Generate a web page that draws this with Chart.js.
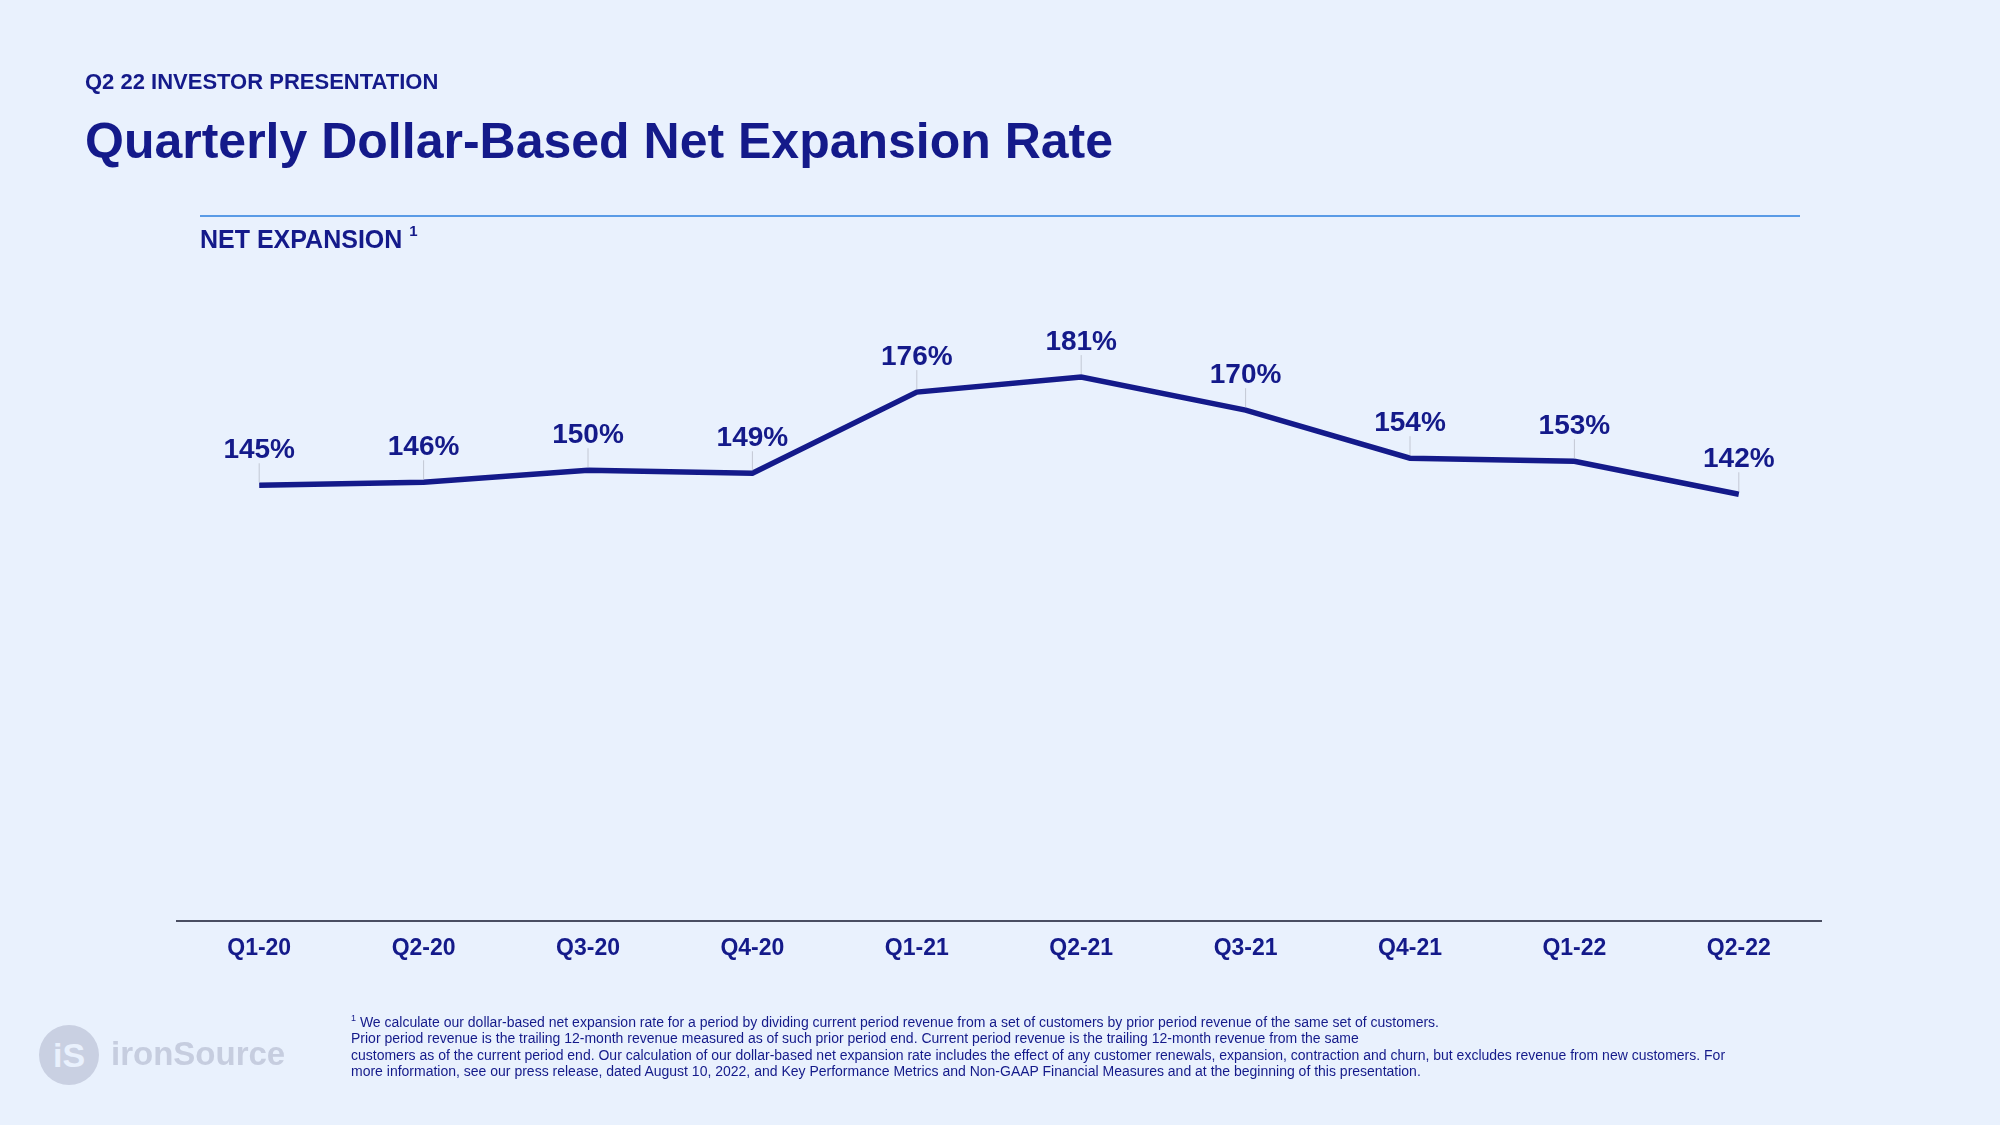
<!DOCTYPE html>
<html>
<head>
<meta charset="utf-8">
<script src="https://cdn.jsdelivr.net/npm/chart.js@4"></script>
<style>
  body { margin: 0; background: #e9f1fd; font-family: "Liberation Sans", Arial, sans-serif; color: #141a8a; }
  #page { position: relative; width: 2000px; height: 1125px; overflow: hidden; }
  #chart { position: absolute; left: 0; top: 0; }
  .txt { position: absolute; white-space: nowrap; font-weight: bold; }
  #kicker { left: 85px; top: 69px; font-size: 22px; }
  #title { left: 85px; top: 112px; font-size: 50px; }
  #rule { position: absolute; left: 200px; top: 215px; width: 1600px; height: 2px; background: #5a9be6; }
  #section { left: 200px; top: 225px; font-size: 25px; }
  #section sup { font-size: 15px; position: relative; top: -3px; }
  #notes { position: absolute; left: 351px; top: 1010px; font-size: 14px; line-height: 16.6px; color: #141a8a; }
  #notes sup { font-size: 9px; }
  #logo { position: absolute; left: 39px; top: 1025px; width: 60px; height: 60px; border-radius: 50%; background: #c9d0e2;
          color: #e9f1fd; font-weight: bold; font-size: 34px; text-align: center; line-height: 60px; }
  #logoname { left: 111px; top: 1035px; font-size: 33px; color: #c6cddf; }
</style>
</head>
<body>
<div id="page">
  <canvas id="chart" width="2000" height="1125"></canvas>
  <div class="txt" id="kicker">Q2 22 INVESTOR PRESENTATION</div>
  <div class="txt" id="title">Quarterly Dollar-Based Net Expansion Rate</div>
  <div id="rule"></div>
  <div class="txt" id="section">NET EXPANSION <sup>1</sup></div>
  <div id="notes">
    <sup>1</sup> We calculate our dollar-based net expansion rate for a period by dividing current period revenue from a set of customers by prior period revenue of the same set of customers.<br>
    Prior period revenue is the trailing 12-month revenue measured as of such prior period end. Current period revenue is the trailing 12-month revenue from the same<br>
    customers as of the current period end. Our calculation of our dollar-based net expansion rate includes the effect of any customer renewals, expansion, contraction and churn, but excludes revenue from new customers. For<br>
    more information, see our press release, dated August 10, 2022, and Key Performance Metrics and Non-GAAP Financial Measures and at the beginning of this presentation.
  </div>
  <div id="logo">iS</div>
  <div class="txt" id="logoname">ironSource</div>
</div>
<script>
// Data
var quarters = ['Q1-20', 'Q2-20', 'Q3-20', 'Q4-20', 'Q1-21', 'Q2-21', 'Q3-21', 'Q4-21', 'Q1-22', 'Q2-22'];
var netExpansion = [145, 146, 150, 149, 176, 181, 170, 154, 153, 142];

var navy = '#141a8a';

// value labels above each point, with a thin leader line
var pointLabels = {
	id: 'pointLabels',
	afterDatasetsDraw: function(chart) {
		var ctx = chart.ctx;
		var meta = chart.getDatasetMeta(0);
		ctx.save();
		meta.data.forEach(function(pt, i) {
			ctx.strokeStyle = '#c3c8d4';
			ctx.lineWidth = 1;
			ctx.beginPath();
			ctx.moveTo(pt.x, pt.y - 3);
			ctx.lineTo(pt.x, pt.y - 22);
			ctx.stroke();
			ctx.fillStyle = navy;
			ctx.font = 'bold 28px "Liberation Sans", Arial, sans-serif';
			ctx.textAlign = 'center';
			ctx.textBaseline = 'middle';
			ctx.fillText(netExpansion[i] + '%', pt.x, pt.y - 35);
		});
		ctx.restore();
	}
};

new Chart(document.getElementById('chart'), {
	type: 'line',
	data: {
		labels: quarters,
		datasets: [{
			data: netExpansion,
			borderColor: navy,
			borderWidth: 5.5,
			pointRadius: 0,
			tension: 0,
			fill: false
		}]
	},
	options: {
		responsive: false,
		animation: false,
		layout: { padding: { left: 177, right: 179, top: 320, bottom: 144 } },
		plugins: { legend: { display: false }, tooltip: { enabled: false } },
		scales: {
			x: {
				offset: true,
				grid: { display: false, drawTicks: false },
				border: { display: true, color: '#4a4e62', width: 2 },
				ticks: { color: navy, padding: 14, font: { family: '"Liberation Sans", Arial, sans-serif', size: 23, weight: 'bold' } },
				afterFit: function(scale) { scale.height = 60; }
			},
			y: {
				display: false,
				min: 0,
				max: 200
			}
		}
	},
	plugins: [pointLabels]
});
</script>
</body>
</html>
